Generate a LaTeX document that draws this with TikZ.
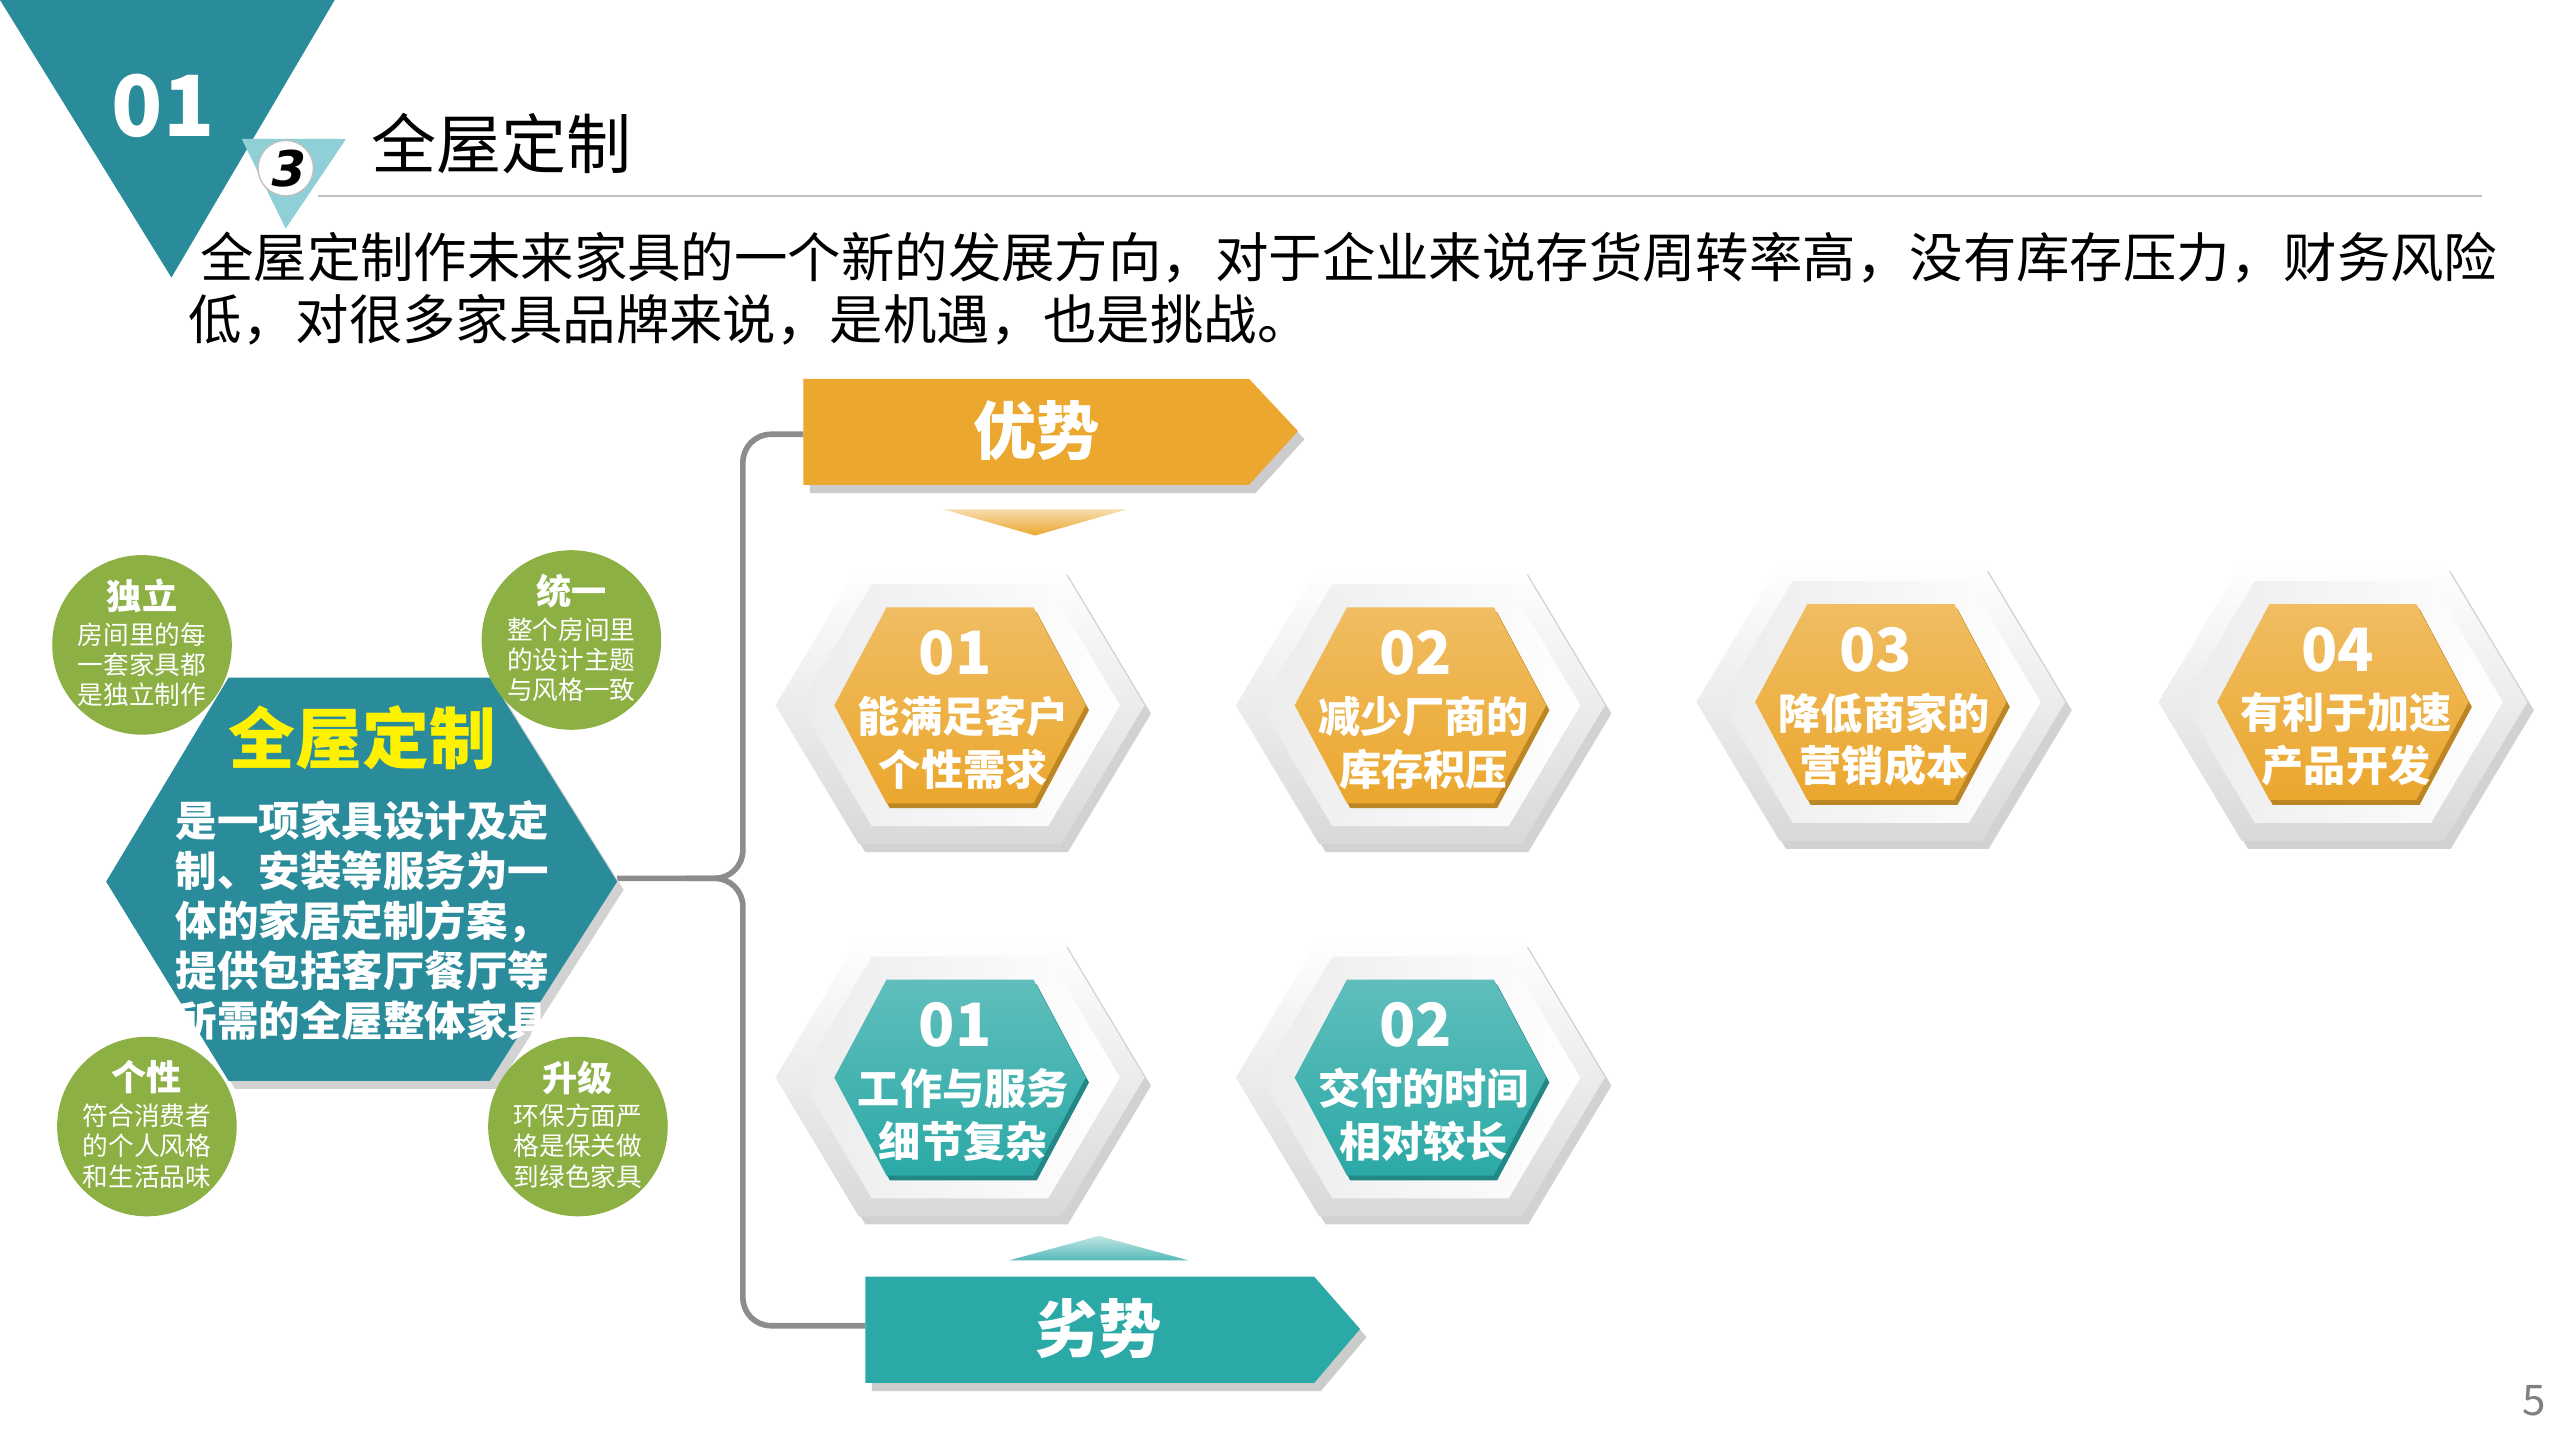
\documentclass[tikz,border=0pt]{standalone}
\usepackage{fontspec}
\setmainfont{Noto Sans CJK SC}
\usetikzlibrary{shadows}
\definecolor{tealdk}{HTML}{2A8C9A}
\definecolor{tealbr}{HTML}{2BA9A6}
\definecolor{grn}{HTML}{8CB043}
\definecolor{org}{HTML}{EBA72E}
\definecolor{lteal}{HTML}{8FCFD6}
\newcommand\hexp[3]{(-#1,0)--(-#3,-#2)--(#3,-#2)--(#1,0)--(#3,#2)--(-#3,#2)--cycle}
\tikzset{
  bigt/.style={text=white,font=\bfseries\fontsize{18}{20}\selectfont},
  numt/.style={text=white,font=\bfseries\fontsize{17}{18}\selectfont},
  hext/.style={text=white,font=\bfseries\fontsize{12}{15}\selectfont,align=center},
  ctitle/.style={text=white,font=\bfseries\fontsize{10}{11}\selectfont},
  cbody/.style={text=white,font=\fontsize{7.3}{8.6}\selectfont,align=center},
  brk/.style={draw=gray!90,line width=1.6pt,rounded corners=8}
}
\newcommand\hexbox[6]{% cx cy color name num text
  \begin{scope}[shift={(#1,#2)}]
    \fill[gray!35] [shift={(4,5)}] \hexp{113}{85}{62};
    \shade[top color=white,bottom color=gray!30] \hexp{113}{85}{62};
    \shade[left color=gray!15,right color=white] \hexp{98}{74}{54};
    \fill[#3!80!black] [shift={(2,3)}] \hexp{77}{60}{45};
    \shade[top color=#3!75!white,bottom color=#3] \hexp{77}{60}{45};
    \node[numt] (#4n) at (-3,-32) {#5};
    \node[hext] (#4) at (2,23) {#6};
  \end{scope}}
\begin{document}
\begin{tikzpicture}[x=0.01633cm,y=-0.01633cm]
\useasboundingbox (0,0) rectangle (1568,882);
\fill[white] (0,0) rectangle (1568,882);
% header
\fill[tealdk] (0,0) -- (205,0) -- (105,170) -- cycle;
\node[text=white,font=\bfseries\fontsize{24}{24}\selectfont] (n01) at (100,65) {01};
\fill[lteal] (148,85) -- (212,85) -- (175,140) -- cycle;
\node[circle,fill=white,draw=gray!50,minimum size=34*0.01633cm,inner sep=0pt,font=\bfseries\fontsize{14}{14}\selectfont] (n3) at (175,103) {\fontspec{DejaVu Sans}[FakeSlant=0.2]3};
\node[anchor=west,font=\fontsize{18.5}{20}\selectfont] (title) at (220,88) {全屋定制};
\draw[gray!50,line width=0.8pt] (195,120) -- (1520,120);
\node[anchor=west,font=\fontsize{15.2}{16}\selectfont] (l1) at (115,158) {全屋定制作未来家具的一个新的发展方向，对于企业来说存货周转率高，没有库存压力，财务风险};
\node[anchor=west,font=\fontsize{15.2}{16}\selectfont] (l2) at (108,196) {低，对很多家具品牌来说，是机遇，也是挑战。};
% bracket
\draw[brk] (492,266) -- (455,266) -- (455,538) -- (378,538);
\draw[brk] (420,538) -- (455,538) -- (455,812) -- (530,812);
% arrows
\fill[gray!40] (496,237) -- (769,237) -- (799,269) -- (769,302) -- (496,302) -- cycle;
\fill[org] (492,232) -- (765,232) -- (795,264) -- (765,297) -- (492,297) -- cycle;
\node[bigt] (ys) at (635,264) {优势};
\shade[top color=org!40,bottom color=org] (578,312) -- (690,312) -- (634,328) -- cycle;
\fill[gray!40] (534,787) -- (809,787) -- (837,819) -- (809,852) -- (534,852) -- cycle;
\fill[tealbr] (530,782) -- (805,782) -- (833,814) -- (805,847) -- (530,847) -- cycle;
\node[bigt] (ls) at (673,814) {劣势};
\shade[top color=tealbr!30,bottom color=tealbr!80] (673,757) -- (728,772) -- (618,772) -- cycle;
% left hexagon
\fill[gray!35] (69,545) -- (144,420) -- (304,420) -- (382,545) -- (304,667) -- (144,667) -- cycle;
\fill[tealdk] (65,540) -- (140,415) -- (300,415) -- (378,540) -- (300,662) -- (140,662) -- cycle;
\node[text=yellow,font=\bfseries\fontsize{19}{20}\selectfont] (main) at (222,452) {全屋定制};
\node[text=white,font=\bfseries\fontsize{11.8}{14.2}\selectfont,align=left,anchor=north] (mainb) at (222,483) {是一项家具设计及定\\制、安装等服务为一\\体的家居定制方案，\\提供包括客厅餐厅等\\所需的全屋整体家具};
% circles
\foreach \nm/\x/\y/\t/\b in {c1/87/395/独立/{房间里的每\\一套家具都\\是独立制作},c2/350/392/统一/{整个房间里\\的设计主题\\与风格一致},c3/90/690/个性/{符合消费者\\的个人风格\\和生活品味},c4/354/690/升级/{环保方面严\\格是保关做\\到绿色家具}}{
  \fill[grn] (\x,\y) circle (55);
  \node[ctitle] (\nm t) at (\x,\y-30) {\t};
  \node[cbody] (\nm b) at (\x,\y+12) {\b};
}
% hexes
\hexbox{588}{432}{org}{h1}{01}{能满足客户\\个性需求}
\hexbox{870}{432}{org}{h2}{02}{减少厂商的\\库存积压}
\hexbox{1152}{430}{org}{h3}{03}{降低商家的\\营销成本}
\hexbox{1435}{430}{org}{h4}{04}{有利于加速\\产品开发}
\hexbox{588}{660}{tealbr}{h5}{01}{工作与服务\\细节复杂}
\hexbox{870}{660}{tealbr}{h6}{02}{交付的时间\\相对较长}
\node[text=gray,font=\fontsize{12}{12}\selectfont] (pg) at (1552,858) {5};
\end{tikzpicture}
\end{document}
